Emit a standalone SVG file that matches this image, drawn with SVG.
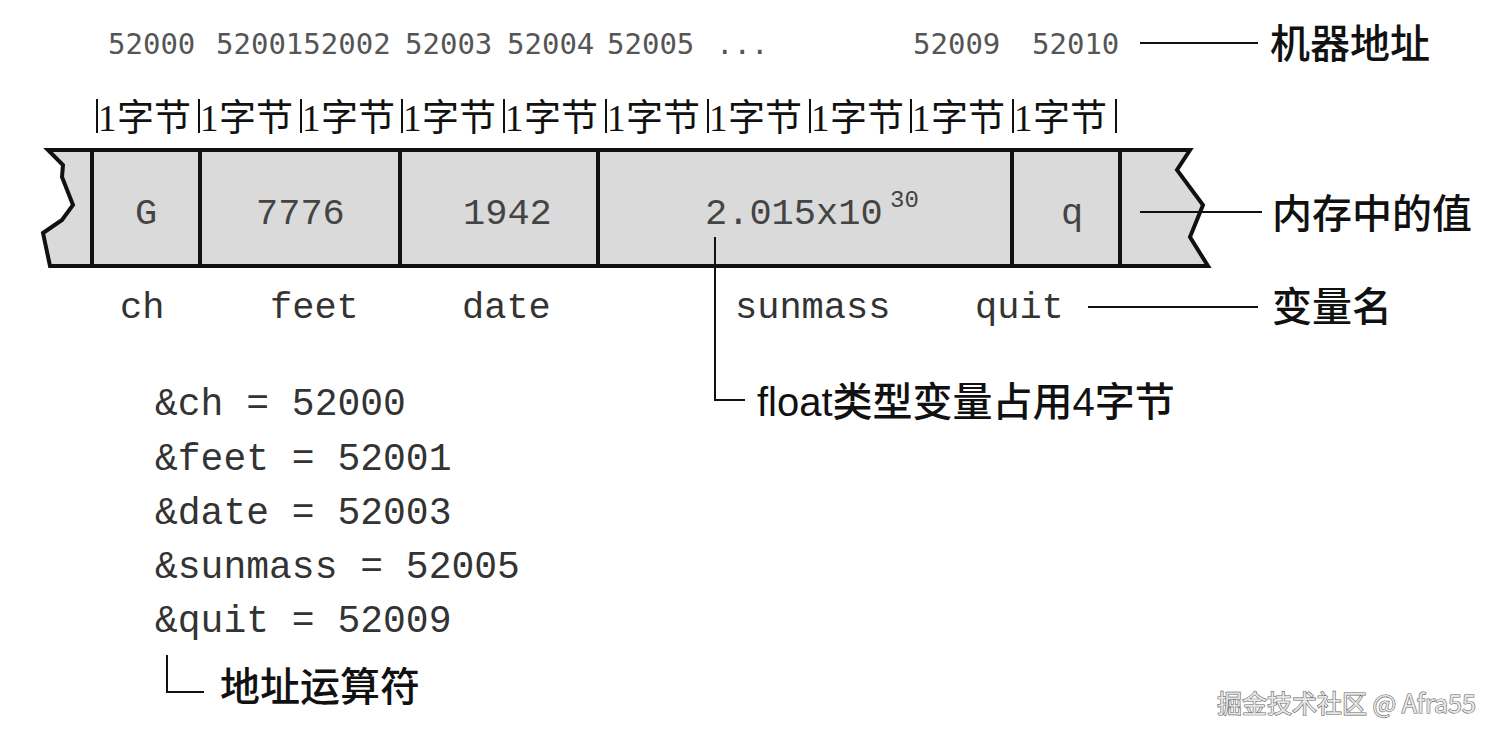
<svg xmlns="http://www.w3.org/2000/svg" width="1500" height="739" viewBox="0 0 1500 739">
<style>
.addr{font-family:"DejaVu Sans Mono",monospace;font-size:29px;fill:#555}
.byte1{font-family:"Liberation Serif",serif;font-size:37px;fill:#111}
.bytec{font-family:"Noto Sans CJK SC",sans-serif;font-size:37px;fill:#111}
.val{font-family:"Liberation Mono",monospace;font-size:37px;fill:#444}
.sup{font-family:"Liberation Mono",monospace;font-size:24px;fill:#444}
.name{font-family:"Liberation Mono",monospace;font-size:37px;fill:#333}
.code{font-family:"Liberation Mono",monospace;font-size:38px;fill:#333}
.lab{font-family:"Liberation Sans","Noto Sans CJK SC",sans-serif;font-size:40px;font-weight:500;fill:#111}
.ln{stroke:#111;stroke-width:2;fill:none}
.bar{stroke:#111;stroke-width:2}
.cell{stroke:#111;stroke-width:4}
.wm{font-family:"Noto Sans CJK SC",sans-serif;font-size:25px;fill:#e6e6e6;stroke:#666;stroke-width:1.2;paint-order:stroke}
</style>
<rect width="1500" height="739" fill="#ffffff"/>
<g id="addresses">
<text class="addr" x="108" y="54">52000</text>
<text class="addr" x="216" y="54">5200152002</text>
<text class="addr" x="405" y="54">52003</text>
<text class="addr" x="507" y="54">52004</text>
<text class="addr" x="607" y="54">52005</text>
<text class="addr" x="716" y="54">...</text>
<text class="addr" x="913" y="54">52009</text>
<text class="addr" x="1032" y="54">52010</text>
</g>
<g id="bytes">
<line class="bar" x1="97" y1="99" x2="97" y2="133"/><text class="byte1" x="98" y="131">1</text><text class="bytec" x="117" y="131">字节</text>
<line class="bar" x1="199" y1="99" x2="199" y2="133"/><text class="byte1" x="200" y="131">1</text><text class="bytec" x="219" y="131">字节</text>
<line class="bar" x1="301" y1="99" x2="301" y2="133"/><text class="byte1" x="302" y="131">1</text><text class="bytec" x="321" y="131">字节</text>
<line class="bar" x1="402" y1="99" x2="402" y2="133"/><text class="byte1" x="403" y="131">1</text><text class="bytec" x="422" y="131">字节</text>
<line class="bar" x1="504" y1="99" x2="504" y2="133"/><text class="byte1" x="505" y="131">1</text><text class="bytec" x="524" y="131">字节</text>
<line class="bar" x1="606" y1="99" x2="606" y2="133"/><text class="byte1" x="607" y="131">1</text><text class="bytec" x="626" y="131">字节</text>
<line class="bar" x1="708" y1="99" x2="708" y2="133"/><text class="byte1" x="709" y="131">1</text><text class="bytec" x="728" y="131">字节</text>
<line class="bar" x1="810" y1="99" x2="810" y2="133"/><text class="byte1" x="811" y="131">1</text><text class="bytec" x="830" y="131">字节</text>
<line class="bar" x1="911" y1="99" x2="911" y2="133"/><text class="byte1" x="912" y="131">1</text><text class="bytec" x="931" y="131">字节</text>
<line class="bar" x1="1013" y1="99" x2="1013" y2="133"/><text class="byte1" x="1014" y="131">1</text><text class="bytec" x="1033" y="131">字节</text>
<line class="bar" x1="1116" y1="99" x2="1116" y2="133"/>
</g>
<g id="memory">
<path d="M48 150 H1190 L1177 170 L1203 205 L1190 237 L1208 266 H50 L43 233 L62 220 L73 205 L62 177 L63 165 Z" fill="#dadada" stroke="#111" stroke-width="4" stroke-linejoin="miter"/>
<line class="cell" x1="92" y1="150" x2="92" y2="266"/>
<line class="cell" x1="200" y1="150" x2="200" y2="266"/>
<line class="cell" x1="400" y1="150" x2="400" y2="266"/>
<line class="cell" x1="598" y1="150" x2="598" y2="266"/>
<line class="cell" x1="1012" y1="150" x2="1012" y2="266"/>
<line class="cell" x1="1120" y1="150" x2="1120" y2="266"/>
</g>
<g id="values">
<text class="val" x="135" y="224">G</text>
<text class="val" x="256" y="224">7776</text>
<text class="val" x="463" y="224">1942</text>
<text class="val" x="705" y="224">2.015x10</text><text class="sup" x="890" y="207">30</text>
<text class="val" x="1061" y="224">q</text>
</g>
<g id="names">
<text class="name" x="120" y="318">ch</text>
<text class="name" x="270" y="318">feet</text>
<text class="name" x="462" y="318">date</text>
<text class="name" x="735" y="318">sunmass</text>
<text class="name" x="975" y="318">quit</text>
</g>
<g id="address-list">
<text class="code" x="155" y="415">&amp;ch = 52000</text>
<text class="code" x="155" y="470">&amp;feet = 52001</text>
<text class="code" x="155" y="524">&amp;date = 52003</text>
<text class="code" x="155" y="578">&amp;sunmass = 52005</text>
<text class="code" x="155" y="632">&amp;quit = 52009</text>
</g>
<g id="labels">
<text class="lab" x="1270" y="58">机器地址</text>
<text class="lab" x="1272" y="228">内存中的值</text>
<text class="lab" x="1272" y="321">变量名</text>
<text class="lab" x="757" y="416">float类型变量占用4字节</text>
<text class="lab" x="220" y="701">地址运算符</text>
</g>
<g id="connectors">
<line class="ln" x1="1140" y1="43" x2="1258" y2="43"/>
<line class="ln" x1="1140" y1="212" x2="1262" y2="212"/>
<line class="ln" x1="1088" y1="307" x2="1258" y2="307"/>
<path class="ln" d="M715 237 V400 H745"/>
<path class="ln" d="M167 655 V692 H204"/>
</g>
<g id="watermark">
<text class="wm" x="1217" y="713">掘金技术社区 @ Afra55</text>
</g>
</svg>
